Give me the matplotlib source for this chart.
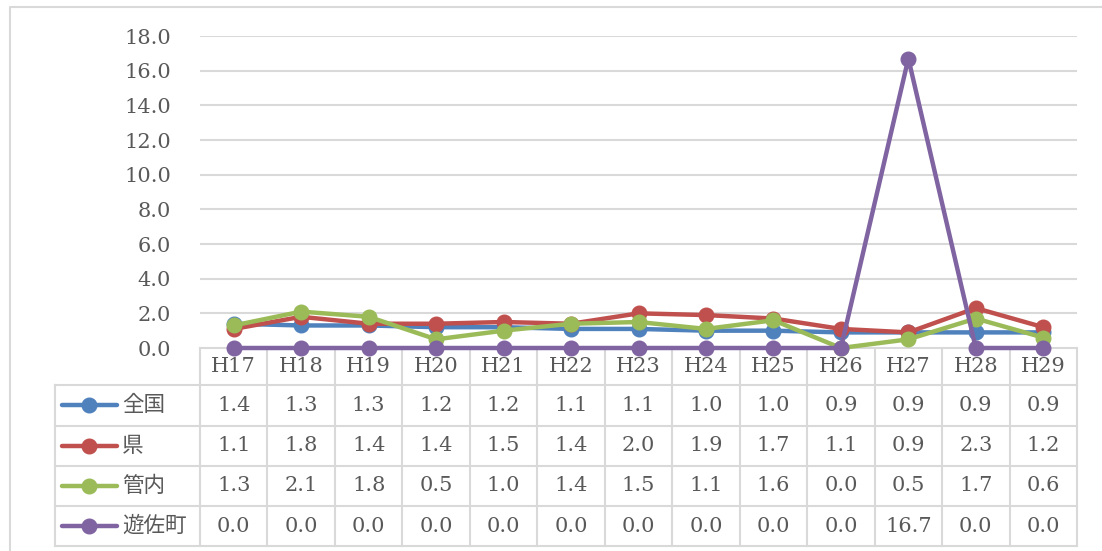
import numpy as np
import matplotlib
matplotlib.use("Agg")
import matplotlib.pyplot as plt
from matplotlib.transforms import blended_transform_factory

plt.rcParams['font.family'] = ['DejaVu Serif', 'Noto Sans CJK JP', 'DejaVu Sans']

years = ["H17", "H18", "H19", "H20", "H21", "H22", "H23", "H24", "H25", "H26", "H27", "H28", "H29"]
names = ["全国", "県", "管内", "遊佐町"]
zenkoku = [1.4, 1.3, 1.3, 1.2, 1.2, 1.1, 1.1, 1.0, 1.0, 0.9, 0.9, 0.9, 0.9]
ken = [1.1, 1.8, 1.4, 1.4, 1.5, 1.4, 2.0, 1.9, 1.7, 1.1, 0.9, 2.3, 1.2]
kannai = [1.3, 2.1, 1.8, 0.5, 1.0, 1.4, 1.5, 1.1, 1.6, 0.0, 0.5, 1.7, 0.6]
yuza = [0.0, 0.0, 0.0, 0.0, 0.0, 0.0, 0.0, 0.0, 0.0, 0.0, 16.7, 0.0, 0.0]
series = [zenkoku, ken, kannai, yuza]
colors = ["#4F81BD", "#C0504D", "#9BBB59", "#8064A2"]

W, H = 1102, 551
fig = plt.figure(figsize=(W / 100, H / 100), dpi=100)

# overlay in pixel coords for table / border
ov = fig.add_axes([0, 0, 1, 1])
ov.set_xlim(0, W)
ov.set_ylim(H, 0)
ov.axis("off")

pl, pr, pt, pb = 200, 1077, 36, 348
ax = fig.add_axes([pl / W, (H - pb) / H, (pr - pl) / W, (pb - pt) / H])
x = np.arange(len(years))
ax.set_xlim(-0.5, len(years) - 0.5)
ax.set_ylim(0, 18)
ax.set_yticks(np.arange(0, 18.1, 2))
ax.set_yticklabels(["%.1f" % v for v in np.arange(0, 18.1, 2)])
ax.tick_params(axis="y", length=0, pad=21, labelsize=15, labelcolor="#595959")
ax.set_xticks([])
ax.grid(axis="y", color="#D9D9D9", lw=1.5)
ax.set_axisbelow(True)
for s in ax.spines.values():
    s.set_visible(False)

for vals, c in zip(series, colors):
    ax.plot(x, vals, color=c, lw=3.2, marker="o", ms=10.5, clip_on=False, zorder=3)

# outer border (top and left only visible)
ov.plot([10, 10, W + 5], [H + 5, 7, 7], color="#D9D9D9", lw=1.5)

# data table
tr = blended_transform_factory(ax.transData, ov.transData)
grid_c = "#D9D9D9"
rows_y = [348, 385, 425.5, 465.5, 506, 546]
tab_left = 55
for i, yy in enumerate(rows_y):
    if i == 0:
        ov.plot([pl, pr], [yy, yy], color=grid_c, lw=1.5)
    else:
        ov.plot([tab_left, pr], [yy, yy], color=grid_c, lw=1.5)
ov.plot([tab_left, tab_left], [rows_y[1], rows_y[-1]], color=grid_c, lw=1.5)
for k in range(len(years) + 1):
    ax.plot([k - 0.5, k - 0.5], [rows_y[0], rows_y[-1]], color=grid_c, lw=1.5,
            transform=tr, clip_on=False)

for k, yr in enumerate(years):
    ax.text(k, (rows_y[0] + rows_y[1]) / 2, yr, transform=tr, ha="center", va="center",
            fontsize=15, color="#595959")

for r, (nm, vals, c) in enumerate(zip(names, series, colors)):
    yc = (rows_y[r + 1] + rows_y[r + 2]) / 2
    ov.plot([62, 117], [yc, yc], color=c, lw=3.2, solid_capstyle="round")
    ov.plot([89], [yc], marker="o", ms=10.5, color=c)
    ov.text(122, yc, nm, ha="left", va="center", fontsize=15.5, color="#595959",
            family=["Noto Sans CJK JP", "DejaVu Sans"])
    for k, v in enumerate(vals):
        ax.text(k, yc, "%.1f" % v, transform=tr, ha="center", va="center",
                fontsize=15, color="#595959")

fig.savefig("out.png", dpi=100, facecolor="white")
